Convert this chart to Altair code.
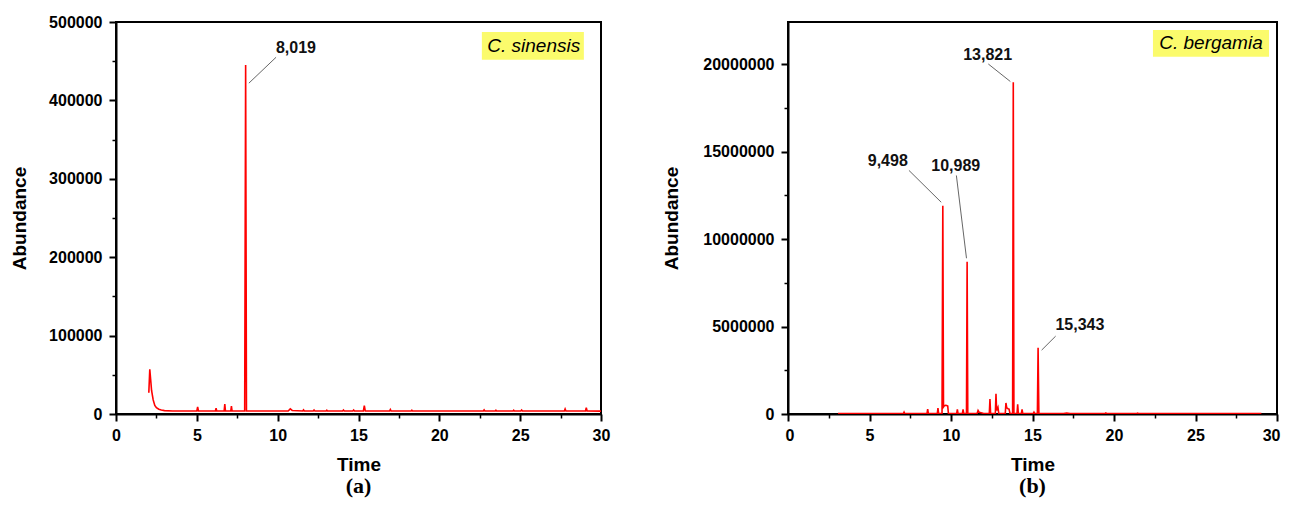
import altair as alt
import pandas as pd

# ---------------- Panel (a): C. sinensis ----------------
time_a = [2.03, 2.09, 2.14, 2.2, 2.3, 2.4, 2.5, 2.65, 2.8, 3.0, 3.5, 4.5,
          5.0, 5.05, 5.1, 6.15, 6.19, 6.23, 6.69, 6.73, 6.77, 7.1, 7.14, 7.18,
          7.96, 8.019, 8.07, 10.65, 10.78, 10.9, 11.55, 11.6, 11.65,
          12.2, 12.25, 12.3, 13.0, 13.04, 13.08, 14.02, 14.07, 14.12,
          14.65, 14.7, 14.75, 15.3, 15.36, 15.42, 16.92, 16.97, 17.02,
          18.26, 18.3, 18.34, 22.72, 22.77, 22.82, 23.46, 23.5, 23.54,
          24.56, 24.6, 24.64, 25.04, 25.09, 25.14,
          27.73, 27.78, 27.83, 29.04, 29.09, 29.14, 30.0]
abund_a = [27000, 57000, 45000, 30000, 18000, 11000, 8000, 6000, 5000, 4300, 3900, 3800,
           3800, 9000, 3800, 3800, 7300, 3800, 3800, 12500, 3800, 3800, 10000, 3800,
           3800, 445000, 3800, 3800, 6500, 4500, 3800, 5200, 3800,
           3800, 5000, 3800, 3800, 4800, 3800, 3800, 5000, 3800,
           3800, 5000, 3800, 3800, 10500, 3800, 3800, 5800, 3800,
           3800, 4800, 3800, 3800, 5200, 3800, 3800, 4800, 3800,
           3800, 4800, 3800, 3800, 5000, 3800,
           3800, 6500, 3800, 3800, 8000, 3800, 3700]

lab_a_text = ["8,019"]
lab_a_x = [11.13]
lab_a_y = [467000]
lead_a_x1 = [9.9]
lead_a_y1 = [455000]
lead_a_x2 = [8.22]
lead_a_y2 = [422000]
legend_a = "C. sinensis"
legend_a_box = [22.63, 28.94, 451800, 487200]
legend_a_pos = [25.84, 469300]

# ---------------- Panel (b): C. bergamia ----------------
time_b = [3.07, 7.08, 7.12, 7.16, 8.53, 8.57, 8.61, 9.16, 9.2, 9.24,
          9.45, 9.498, 9.54, 9.6, 9.67, 9.73, 9.8, 9.84,
          10.35, 10.39, 10.43, 10.7, 10.74, 10.78, 10.95, 10.989, 11.03,
          11.6, 11.66, 11.72, 11.9, 12.0,
          12.35, 12.39, 12.43, 12.72, 12.76, 12.8, 12.88, 12.93,
          13.33, 13.37, 13.42, 13.5, 13.56, 13.62, 13.78, 13.821, 13.86,
          14.05, 14.09, 14.13, 14.32, 14.36, 14.4, 15.05, 15.09, 15.13,
          15.3, 15.343, 15.39, 16.9, 17.1, 17.3, 19.46, 19.5, 19.54,
          21.4, 21.45, 21.5, 29.04]
abund_b = [30000, 30000, 110000, 30000, 30000, 280000, 30000, 30000, 340000, 30000,
           30000, 11900000, 400000, 480000, 500000, 480000, 450000, 30000,
           30000, 270000, 30000, 30000, 270000, 30000, 30000, 8700000, 30000,
           30000, 200000, 100000, 60000, 30000,
           30000, 860000, 30000, 30000, 1160000, 200000, 380000, 30000,
           30000, 630000, 350000, 300000, 280000, 30000, 30000, 18950000, 30000,
           30000, 560000, 30000, 30000, 270000, 30000, 30000, 100000, 30000,
           30000, 3780000, 30000, 30000, 60000, 30000, 30000, 60000, 30000,
           30000, 50000, 30000, 30000]

lab_b_text = ["9,498", "10,989", "13,821", "15,343"]
lab_b_x = [6.12, 10.29, 12.25, 17.91]
lab_b_y = [14450000, 14160000, 20520000, 5060000]
lead_b_x1 = [7.42, 10.33, 12.29, 16.42]
lead_b_y1 = [13920000, 13630000, 20000000, 4450000]
lead_b_x2 = [9.4, 10.95, 13.64, 15.56]
lead_b_y2 = [12100000, 8900000, 19000000, 3650000]
legend_b = "C. bergamia"
legend_b_box = [22.39, 29.51, 20420000, 21950000]
legend_b_pos = [25.95, 21180000]

x_ticks = [i * 2.5 for i in range(13)]
y_ticks_a = [i * 50000 for i in range(11)]
y_ticks_b = [i * 2500000 for i in range(9)]

FONT = "Liberation Sans"
RED = "#ff0000"


def make_axis(title, values, major_test, is_x, title_pad, flush=False):
    extra = {}
    if flush:
        extra = {"labelFlush": True, "labelFlushOffset": 3}
    else:
        extra = {"labelFlush": False}
    return alt.Axis(
        title=title,
        values=values,
        format="d" if not is_x else "",
        labelExpr=f"{major_test} ? datum.label : ''",
        tickSize={"condition": {"test": major_test, "value": 7}, "value": 4},
        tickWidth={"condition": {"test": major_test, "value": 2}, "value": 1.5},
        tickColor="black",
        domainColor="black",
        domainWidth=2,
        grid=False,
        labelFont=FONT,
        labelFontSize=16,
        labelFontWeight="bold",
        labelColor="black",
        labelPadding=6.5 if is_x else 7,
        labelOverlap=False,
        titleFont=FONT,
        titleFontSize=19,
        titleFontWeight="bold",
        titleColor="black",
        titlePadding=title_pad,
        **extra,
    )


def panel(time, abund, lab_text, lab_x, lab_y, lx1, ly1, lx2, ly2,
          legend_text, box, pos, ymax, yticks, ymajor, tag, w, h, ytitle_pad, flush):
    xs = alt.Scale(domain=[0, 30], nice=False)
    ys = alt.Scale(domain=[0, ymax], nice=False)
    xax = make_axis("Time", x_ticks, "datum.value % 5 === 0", True, 11.5, flush)
    yax = make_axis("Abundance", yticks, f"datum.value % {ymajor} === 0", False, ytitle_pad)

    df = pd.DataFrame({"t": time, "a": abund})
    line = alt.Chart(df).mark_line(color=RED, strokeWidth=1.6, clip=True).encode(
        x=alt.X("t:Q", scale=xs, axis=xax),
        y=alt.Y("a:Q", scale=ys, axis=yax),
    )

    lead_df = pd.DataFrame({"t": lx1, "a": ly1, "t2": lx2, "a2": ly2})
    leaders = alt.Chart(lead_df).mark_rule(color="#555555", strokeWidth=0.9).encode(
        x=alt.X("t:Q", scale=xs, axis=xax),
        y=alt.Y("a:Q", scale=ys, axis=yax),
        x2="t2:Q",
        y2="a2:Q",
    )

    lab_df = pd.DataFrame({"t": lab_x, "a": lab_y, "txt": lab_text})
    labels = alt.Chart(lab_df).mark_text(
        font=FONT, fontSize=16, fontWeight="bold", color="#111111",
        align="center", baseline="middle"
    ).encode(
        x=alt.X("t:Q", scale=xs, axis=xax),
        y=alt.Y("a:Q", scale=ys, axis=yax),
        text="txt:N",
    )

    box_df = pd.DataFrame({"t": [box[0]], "t2": [box[1]], "a": [box[2]], "a2": [box[3]]})
    rect = alt.Chart(box_df).mark_rect(color="#fbfb6c").encode(
        x=alt.X("t:Q", scale=xs, axis=xax),
        x2="t2:Q",
        y=alt.Y("a:Q", scale=ys, axis=yax),
        y2="a2:Q",
    )
    leg_df = pd.DataFrame({"t": [pos[0]], "a": [pos[1]], "txt": [legend_text]})
    legtxt = alt.Chart(leg_df).mark_text(
        font=FONT, fontSize=19, fontStyle="italic", color="black",
        align="center", baseline="middle"
    ).encode(
        x=alt.X("t:Q", scale=xs, axis=xax),
        y=alt.Y("a:Q", scale=ys, axis=yax),
        text="txt:N",
    )

    return alt.layer(rect, legtxt, line, leaders, labels).properties(
        width=w, height=h,
        view=alt.ViewBackground(stroke="black", strokeWidth=2, fill="white"),
        title=alt.TitleParams(tag, orient="bottom", font="Liberation Serif",
                              fontSize=22, fontWeight="bold", color="black",
                              offset=1.5, anchor="middle"),
    )


left = panel(time_a, abund_a, lab_a_text, lab_a_x, lab_a_y, lead_a_x1, lead_a_y1,
             lead_a_x2, lead_a_y2, legend_a, legend_a_box, legend_a_pos,
             500000, y_ticks_a, 100000, "(a)", 485, 392, 19, False)
right = panel(time_b, abund_b, lab_b_text, lab_b_x, lab_b_y, lead_b_x1, lead_b_y1,
              lead_b_x2, lead_b_y2, legend_b, legend_b_box, legend_b_pos,
              22400000, y_ticks_b, 5000000, "(b)", 489, 392, 21, True)

chart = alt.hconcat(left, right, spacing=187, bounds="flush").properties(
    padding={"left": 1, "top": 5, "right": 0, "bottom": 0}
).configure_view(stroke="black", strokeWidth=2).configure(background="white")

chart.save("out.html", embed_options={"renderer": "svg", "actions": False})
